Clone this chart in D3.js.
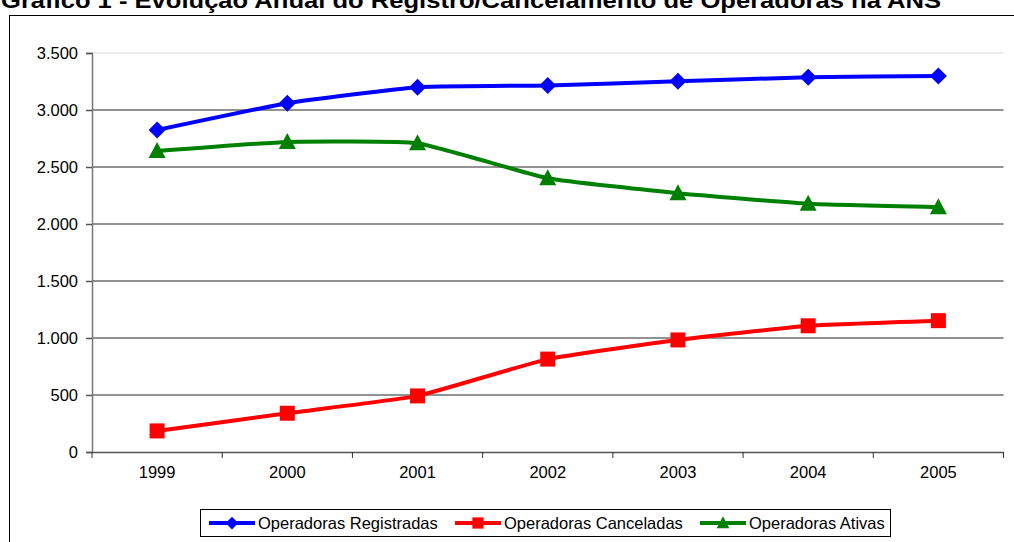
<!DOCTYPE html>
<html>
<head>
<meta charset="utf-8">
<script src="https://d3js.org/d3.v7.min.js"></script>
<style>
  body { margin: 0; background: #fff; }
  svg text { font-family: "Liberation Sans", Arial, sans-serif; }
</style>
</head>
<body>
<div id="chart"></div>
<script>
// data
const years = ["1999", "2000", "2001", "2002", "2003", "2004", "2005"];
const registradas = [2825, 3060, 3200, 3215, 3252, 3287, 3298];
const canceladas = [185, 340, 492, 815, 983, 1107, 1152];
const ativas = [2640, 2720, 2708, 2402, 2270, 2178, 2148];
const yTicks = [0, 500, 1000, 1500, 2000, 2500, 3000, 3500];

const series = [
  {name: "Operadoras Registradas", values: registradas, color: "#0000ff", marker: "diamond"},
  {name: "Operadoras Canceladas", values: canceladas, color: "#ff0000", marker: "square"},
  {name: "Operadoras Ativas", values: ativas, color: "#008000", marker: "triangle"}
];

const W = 1014, H = 542;
const plot = {left: 92, right: 1003.5, top: 53, bottom: 452};

const svg = d3.select("#chart").append("svg")
  .attr("width", W).attr("height", H);

// title, cut off at the top as in the original
svg.append("text")
  .attr("x", 1).attr("y", 8)
  .attr("textLength", 940).attr("lengthAdjust", "spacingAndGlyphs")
  .style("font-size", "22px").style("font-weight", "bold")
  .text("Gráfico 1 - Evolução Anual do Registro/Cancelamento de Operadoras na ANS");

// outer chart frame
svg.append("rect")
  .attr("x", 9.5).attr("y", 15.5)
  .attr("width", 1030).attr("height", 560)
  .attr("fill", "none").attr("stroke", "#000").attr("stroke-width", 1);

const x = d3.scaleBand().domain(years).range([plot.left, plot.right]).padding(0);
const y = d3.scaleLinear().domain([0, 3500]).range([plot.bottom, plot.top]);

const fmt = d => d3.format(",")(d).replace(/,/g, ".");

// gridlines
svg.append("g")
  .selectAll("line")
  .data(yTicks.filter(d => d > 0))
  .join("line")
    .attr("x1", plot.left).attr("x2", plot.right)
    .attr("y1", d => y(d)).attr("y2", d => y(d))
    .attr("stroke", d => d == 3500 ? "#e6e6e6" : "#6e6e6e")
    .attr("stroke-width", 1.5);

// y axis
const yAxis = svg.append("g")
  .attr("transform", `translate(${plot.left},0)`)
  .call(d3.axisLeft(y).tickValues(yTicks).tickFormat(fmt).tickSize(6).tickPadding(8));
yAxis.select(".domain").attr("stroke", "#777").attr("stroke-width", 1.5);
yAxis.selectAll(".tick line").attr("stroke", "#555").attr("stroke-width", 1.5);
yAxis.selectAll("text").style("font-size", "16.5px").attr("fill", "#000")
  .style("font-family", "Liberation Sans, Arial, sans-serif");

// x axis
const xAxis = svg.append("g")
  .attr("transform", `translate(0,${plot.bottom})`)
  .call(d3.axisBottom(x).tickSize(0).tickPadding(14));
xAxis.select(".domain").attr("stroke", "#555").attr("stroke-width", 1.5);
xAxis.selectAll("text").style("font-size", "16.5px").attr("fill", "#000")
  .style("font-family", "Liberation Sans, Arial, sans-serif");
// category separator ticks
svg.append("g")
  .selectAll("line")
  .data(years.map((d, i) => i).concat([years.length]))
  .join("line")
    .attr("x1", i => plot.left + i * x.step()).attr("x2", i => plot.left + i * x.step())
    .attr("y1", plot.bottom).attr("y2", plot.bottom + 6)
    .attr("stroke", "#333").attr("stroke-width", 1);

const line = d3.line()
  .x((d, i) => x(years[i]) + x.bandwidth() / 2)
  .y(d => y(d))
  .curve(d3.curveCardinal.tension(0.6));

function markerPath(type) {
  if (type == "diamond") return "M0,-8.5L8.5,0L0,8.5L-8.5,0Z";
  if (type == "square") return "M-7.5,-7.5H7.5V7.5H-7.5Z";
  return "M0,-9L8.5,7L-8.5,7Z";
}

series.forEach(s => {
  svg.append("path")
    .datum(s.values)
    .attr("d", line)
    .attr("fill", "none")
    .attr("stroke", s.color)
    .attr("stroke-width", 4);

  svg.append("g")
    .selectAll("path")
    .data(s.values)
    .join("path")
      .attr("transform", (d, i) => `translate(${x(years[i]) + x.bandwidth() / 2},${y(d)})`)
      .attr("d", markerPath(s.marker))
      .attr("fill", s.color);
});

// legend
const legend = svg.append("g");
legend.append("rect")
  .attr("x", 200.5).attr("y", 509.5)
  .attr("width", 690).attr("height", 27)
  .attr("fill", "#fff").attr("stroke", "#000").attr("stroke-width", 1);

const legendX = [209, 455, 700];
series.forEach((s, i) => {
  const g = legend.append("g").attr("transform", `translate(${legendX[i]},523)`);
  g.append("line")
    .attr("x1", 0).attr("x2", 46)
    .attr("stroke", s.color).attr("stroke-width", 4);
  g.append("path")
    .attr("transform", "translate(23,0) scale(0.75)")
    .attr("d", markerPath(s.marker))
    .attr("fill", s.color);
  g.append("text")
    .attr("x", 49).attr("y", 6)
    .style("font-size", "16.5px")
    .text(s.name);
});
</script>
</body>
</html>
